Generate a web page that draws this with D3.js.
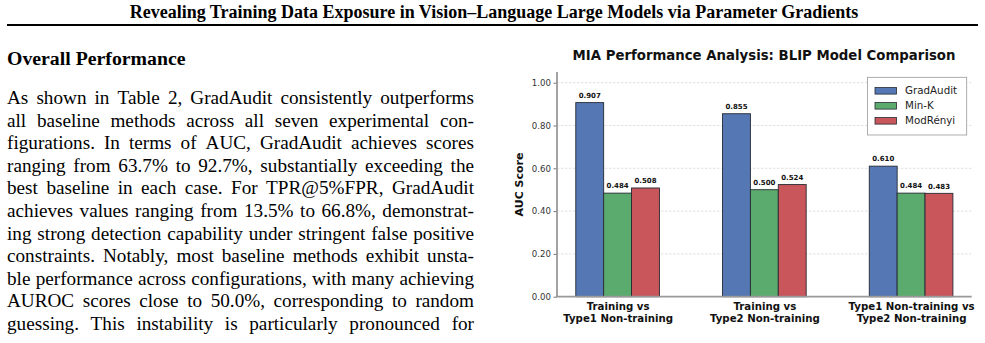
<!DOCTYPE html>
<html>
<head>
<meta charset="utf-8">
<script src="https://cdn.jsdelivr.net/npm/d3@7"></script>
<style>
  body { margin: 0; background: #fff; }
  svg { display: block; }
</style>
</head>
<body>
<div id="chart"></div>
<script>
const width = 985;
const height = 343;

// paper text
const paperTitle = "Revealing Training Data Exposure in Vision–Language Large Models via Parameter Gradients";
const sectionHeading = "Overall Performance";
const bodyLines = [
  "As shown in Table 2, GradAudit consistently outperforms",
  "all baseline methods across all seven experimental con-",
  "figurations. In terms of AUC, GradAudit achieves scores",
  "ranging from 63.7% to 92.7%, substantially exceeding the",
  "best baseline in each case. For TPR@5%FPR, GradAudit",
  "achieves values ranging from 13.5% to 66.8%, demonstrat-",
  "ing strong detection capability under stringent false positive",
  "constraints. Notably, most baseline methods exhibit unsta-",
  "ble performance across configurations, with many achieving",
  "AUROC scores close to 50.0%, corresponding to random",
  "guessing. This instability is particularly pronounced for"
];

// chart data
const chartTitle = "MIA Performance Analysis: BLIP Model Comparison";
const categories = [
  ["Training vs", "Type1 Non-training"],
  ["Training vs", "Type2 Non-training"],
  ["Type1 Non-training vs", "Type2 Non-training"]
];
const methods = ["GradAudit", "Min-K", "ModRényi"];
const gradAudit = [0.907, 0.855, 0.610];
const minK = [0.484, 0.500, 0.484];
const modRenyi = [0.508, 0.524, 0.483];
const yTicks = [0, 0.2, 0.4, 0.6, 0.8, 1.0];
const colors = ["#5577b4", "#5cab6e", "#c8565b"];

const svg = d3
  .select("#chart")
  .append("svg")
  .attr("width", width)
  .attr("height", height);

const serif = "'Liberation Serif', 'Times New Roman', serif";
const sans = "'DejaVu Sans', sans-serif";

// page header
svg.append("text")
  .attr("x", 494)
  .attr("y", 18)
  .attr("text-anchor", "middle")
  .style("font-family", serif)
  .style("font-weight", "bold")
  .style("font-size", "18px")
  .text(paperTitle);

svg.append("line")
  .attr("x1", 7).attr("x2", 978)
  .attr("y1", 25).attr("y2", 25)
  .attr("stroke", "#000")
  .attr("stroke-width", 1.8);

svg.append("text")
  .attr("x", 7)
  .attr("y", 65)
  .style("font-family", serif)
  .style("font-weight", "bold")
  .style("font-size", "19.8px")
  .text(sectionHeading);

// justified body text, one word at a time
const textLeft = 7, textWidth = 467;
bodyLines.forEach((line, i) => {
  const y = 104 + i * 22.6;
  const words = line.split(" ");
  const nodes = words.map((w) =>
    svg.append("text")
      .attr("y", y)
      .style("font-family", serif)
      .style("font-size", "19.2px")
      .text(w)
  );
  const widths = nodes.map((n) => n.node().getComputedTextLength());
  const gap = (textWidth - d3.sum(widths)) / (words.length - 1);
  let x = textLeft;
  nodes.forEach((n, j) => {
    n.attr("x", x);
    x += widths[j] + gap;
  });
});

// ---- bar chart ----
const plot = { left: 557, right: 971.7, top: 72, bottom: 296.7 };

const xScale = d3.scaleLinear()
  .domain([-0.413, 2.413])
  .range([plot.left, plot.right]);

const yScale = d3.scaleLinear()
  .domain([0, 1.05])
  .range([plot.bottom, plot.top]);

const barW = 0.19;
const series = [gradAudit, minK, modRenyi];

svg.append("text")
  .attr("x", 764)
  .attr("y", 59.5)
  .attr("text-anchor", "middle")
  .style("font-family", sans)
  .style("font-weight", "bold")
  .style("font-size", "13.3px")
  .attr("fill", "#111")
  .text(chartTitle);

// grid
svg.append("g")
  .selectAll("line")
  .data(yTicks.filter((d) => d > 0))
  .enter()
  .append("line")
  .attr("x1", plot.left)
  .attr("x2", plot.right)
  .attr("y1", (d) => yScale(d))
  .attr("y2", (d) => yScale(d))
  .attr("stroke", "#d4d4d4")
  .attr("stroke-width", 0.7)
  .attr("stroke-dasharray", "2.5,1.5");

// bars
series.forEach((vals, s) => {
  const off = (s - 1) * barW;
  const g = svg.append("g");
  g.selectAll("rect")
    .data(vals)
    .enter()
    .append("rect")
    .attr("x", (d, i) => xScale(i + off - barW / 2))
    .attr("y", (d) => yScale(d))
    .attr("width", xScale(barW) - xScale(0))
    .attr("height", (d) => yScale(0) - yScale(d))
    .attr("fill", colors[s])
    .attr("stroke", "#262a33")
    .attr("stroke-width", 0.9);

  g.selectAll("text")
    .data(vals)
    .enter()
    .append("text")
    .attr("x", (d, i) => xScale(i + off))
    .attr("y", (d) => yScale(d) - 4.8)
    .attr("text-anchor", "middle")
    .style("font-family", sans)
    .style("font-weight", "bold")
    .style("font-size", "7px")
    .attr("fill", "#111")
    .text((d) => d.toFixed(3));
});

// y axis
const yAxis = svg.append("g")
  .attr("transform", `translate(${plot.left},0)`)
  .call(d3.axisLeft(yScale).tickValues(yTicks).tickFormat(d3.format(".2f")).tickSize(3.5).tickPadding(2.5));
yAxis.select(".domain").remove();
yAxis.selectAll(".tick line").attr("stroke", "#555").attr("stroke-width", 0.8);
yAxis.selectAll(".tick text")
  .style("font-family", sans)
  .style("font-size", "8.6px")
  .attr("fill", "#333");

// x axis labels
const xAxis = svg.append("g")
  .attr("transform", `translate(0,${plot.bottom})`)
  .call(d3.axisBottom(xScale).tickValues([0, 1, 2]).tickSize(0).tickFormat(""));
xAxis.select(".domain").remove();
xAxis.selectAll(".tick")
  .append("text")
  .style("font-family", sans)
  .style("font-weight", "bold")
  .style("font-size", "10.2px")
  .attr("fill", "#111")
  .attr("text-anchor", "middle")
  .each(function (d) {
    const t = d3.select(this);
    categories[d].forEach((line, k) => {
      t.append("tspan").attr("x", 0).attr("y", 13.6 + k * 11.4).text(line);
    });
  });

// spines
svg.append("line")
  .attr("x1", plot.left).attr("x2", plot.left)
  .attr("y1", plot.top).attr("y2", plot.bottom)
  .attr("stroke", "#999").attr("stroke-width", 1.8);
svg.append("line")
  .attr("x1", plot.left - 0.9).attr("x2", plot.right)
  .attr("y1", plot.bottom).attr("y2", plot.bottom)
  .attr("stroke", "#999").attr("stroke-width", 1.8);

// y label
svg.append("text")
  .attr("transform", "translate(523,184.5) rotate(-90)")
  .attr("text-anchor", "middle")
  .style("font-family", sans)
  .style("font-weight", "bold")
  .style("font-size", "11px")
  .attr("fill", "#111")
  .text("AUC Score");

// legend
const legend = svg.append("g").attr("transform", "translate(867.5,77.3)");
legend.append("rect")
  .attr("width", 99.2)
  .attr("height", 57.7)
  .attr("fill", "#fff")
  .attr("stroke", "#999")
  .attr("stroke-width", 0.8);
methods.forEach((m, i) => {
  const row = legend.append("g").attr("transform", `translate(0,${13.4 + i * 15})`);
  row.append("rect")
    .attr("x", 7.5).attr("y", -3.2)
    .attr("width", 21.5).attr("height", 6.6)
    .attr("fill", colors[i])
    .attr("stroke", "#262a33")
    .attr("stroke-width", 0.8);
  row.append("text")
    .attr("x", 37.5).attr("y", 3.6)
    .style("font-family", sans)
    .style("font-size", "10.3px")
    .attr("fill", "#222")
    .text(m);
});
</script>
</body>
</html>
